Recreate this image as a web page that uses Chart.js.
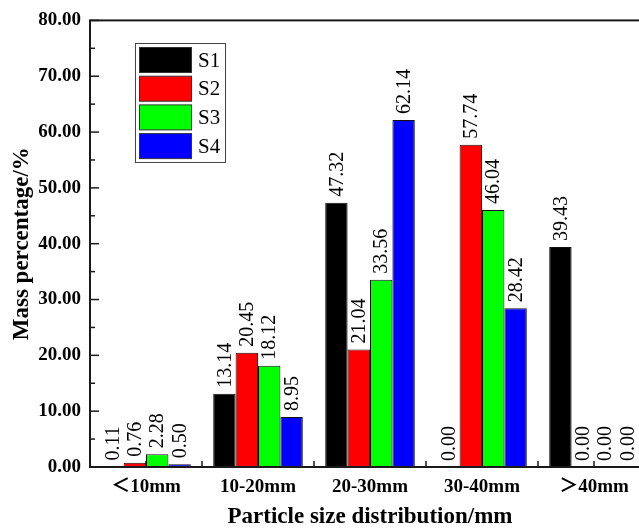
<!DOCTYPE html>
<html>
<head>
<meta charset="utf-8">
<script src="https://cdn.jsdelivr.net/npm/chart.js@4/dist/chart.umd.min.js"></script>
<style>
  html, body { margin: 0; padding: 0; overflow: hidden; background: #fff; }
  canvas { display: block; }
</style>
</head>
<body>
<canvas id="massChart" width="650" height="531"></canvas>
<script>
// ---------- data
var categories = ['＜10mm', '10-20mm', '20-30mm', '30-40mm', '＞40mm'];
var seriesNames = ['S1', 'S2', 'S3', 'S4'];
var s1Values = [0.11, 13.14, 47.32, 0.00, 39.43];
var s2Values = [0.76, 20.45, 21.04, 57.74, 0.00];
var s3Values = [2.28, 18.12, 33.56, 46.04, 0.00];
var s4Values = [0.50, 8.95, 62.14, 28.42, 0.00];
var yTickMin = 0, yTickMax = 80, yTickStep = 10;

var colors = ['#000000', '#ff0000', '#00ff00', '#0000ff'];
var serif = '"Liberation Serif", "Times New Roman", "Noto Sans CJK SC", serif';

// frame, inward ticks, value labels and legend box
var framePlugin = {
    id: 'frame',
    beforeDatasetsDraw: function (chart) {
        var ctx = chart.ctx, a = chart.chartArea;
        var ys = chart.scales.y, xs = chart.scales.x;
        ctx.save();
        ctx.strokeStyle = '#1a1a1a';
        ctx.lineWidth = 1.5;
        // y ticks (major + minor), pointing inward
        ys.ticks.forEach(function (t, i) {
            var py = ys.getPixelForValue(t.value);
            ctx.beginPath(); ctx.moveTo(a.left, py); ctx.lineTo(a.left + 9, py); ctx.stroke();
            if (i < ys.ticks.length - 1) {
                var pm = ys.getPixelForValue(t.value + yTickStep / 2);
                ctx.beginPath(); ctx.moveTo(a.left, pm); ctx.lineTo(a.left + 5, pm); ctx.stroke();
            }
        });
        // x ticks at category centres and boundaries
        var step = xs.getPixelForValue(1) - xs.getPixelForValue(0);
        for (var i = 0; i < categories.length; i++) {
            var cx = xs.getPixelForValue(i);
            [cx, cx + step / 2].forEach(function (px) {
                ctx.beginPath(); ctx.moveTo(px, a.bottom); ctx.lineTo(px, a.bottom - 6); ctx.stroke();
            });
        }
        ctx.restore();
    },
    afterDatasetsDraw: function (chart) {
        var ctx = chart.ctx, a = chart.chartArea;
        ctx.save();
        // value labels, rotated
        ctx.fillStyle = '#000';
        ctx.font = '20px ' + serif;
        ctx.textAlign = 'left';
        ctx.textBaseline = 'middle';
        chart.data.datasets.forEach(function (ds, di) {
            chart.getDatasetMeta(di).data.forEach(function (bar, j) {
                ctx.save();
                ctx.translate(bar.x, bar.y - 6);
                ctx.rotate(-Math.PI / 2);
                ctx.fillText(ds.data[j].toFixed(2), 0, 1);
                ctx.restore();
            });
        });
        // frame
        ctx.strokeStyle = '#1a1a1a';
        ctx.lineWidth = 2;
        ctx.strokeRect(a.left, a.top, a.right - a.left, a.bottom - a.top);

        // legend box
        var lx = 135, ly = 43, lw = 90, lh = 119;
        ctx.lineWidth = 1;
        ctx.strokeStyle = '#444';
        ctx.fillStyle = '#fff';
        ctx.fillRect(lx + 0.5, ly + 0.5, lw, lh);
        ctx.strokeRect(lx + 0.5, ly + 0.5, lw, lh);
        ctx.font = '21px ' + serif;
        ctx.textBaseline = 'middle';
        chart.data.datasets.forEach(function (ds, di) {
            var sy = ly + 4 + di * 28.7;
            ctx.fillStyle = ds.backgroundColor;
            ctx.fillRect(lx + 4.5, sy + 0.5, 52, 25);
            ctx.strokeStyle = '#333';
            ctx.strokeRect(lx + 4.5, sy + 0.5, 52, 25);
            ctx.fillStyle = '#000';
            ctx.fillText(ds.label, lx + 63, sy + 14);
        });
        ctx.restore();
    }
};

var valueLists = [s1Values, s2Values, s3Values, s4Values];
var massChart = new Chart(document.getElementById('massChart').getContext('2d'), {
    type: 'bar',
    data: {
        labels: categories,
        datasets: seriesNames.map(function (name, i) {
            return {
                label: name,
                data: valueLists[i],
                backgroundColor: colors[i],
                borderColor: '#111',
                borderWidth: 1,
                borderSkipped: false,
                barPercentage: 1.0,
                categoryPercentage: 0.8
            };
        })
    },
    options: {
        responsive: false,
        animation: false,
        layout: { padding: { top: 17, left: 0, right: 0, bottom: 0 } },
        plugins: {
            legend: { display: false },
            tooltip: { enabled: false }
        },
        scales: {
            x: {
                grid: { display: false, drawTicks: false },
                border: { display: false },
                afterFit: function (s) { s.height = 64; },
                ticks: {
                    color: '#000',
                    padding: 9,
                    maxRotation: 0,
                    font: { family: serif, size: 19, weight: 'bold' }
                },
                title: {
                    display: true,
                    text: 'Particle size distribution/mm',
                    color: '#000',
                    padding: { top: 0, bottom: 0 },
                    font: { family: serif, size: 23, weight: 'bold' }
                }
            },
            y: {
                min: yTickMin,
                max: yTickMax,
                grid: { display: false, drawTicks: false },
                border: { display: false },
                afterFit: function (s) { s.width = 90; },
                ticks: {
                    stepSize: yTickStep,
                    color: '#000',
                    padding: 9,
                    font: { family: serif, size: 19, weight: 'bold' },
                    callback: function (v) { return v.toFixed(2); }
                },
                title: {
                    display: true,
                    text: 'Mass percentage/%',
                    color: '#000',
                    padding: { top: 8, bottom: 0 },
                    font: { family: serif, size: 23, weight: 'bold' }
                }
            }
        }
    },
    plugins: [framePlugin]
});
</script>
</body>
</html>
